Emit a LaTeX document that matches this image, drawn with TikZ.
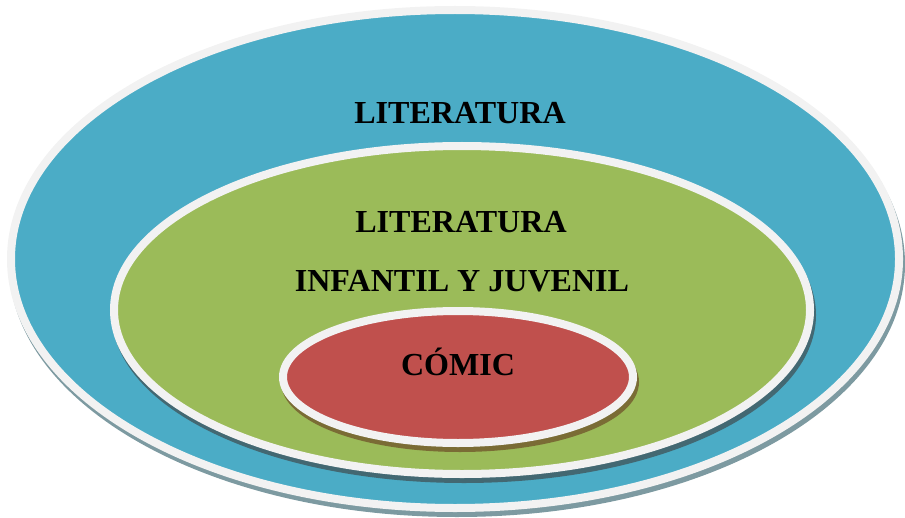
\documentclass[tikz,border=0pt]{standalone}
\usepackage{fontspec}
\setmainfont{Liberation Serif}
\usepackage{xcolor}
\definecolor{litblue}{HTML}{4BACC6}
\definecolor{litgreen}{HTML}{9BBB59}
\definecolor{litred}{HTML}{C0504D}
\definecolor{rimgray}{HTML}{F2F2F2}
\tikzset{
  rim/.style={draw=rimgray, line width=0.2cm},
  extrude/.style={fill=#1, draw=#1, line width=0.2cm},
  label/.style={font=\fontsize{22.8}{27}\selectfont\bfseries, text=black}
}
\begin{document}
\begin{tikzpicture}[x=0.025cm,y=-0.025cm]
\useasboundingbox (0,0) rectangle (905,518);
\filldraw [extrude=litblue!50!black!60] (457,264) ellipse [x radius=444, y radius=249];
\filldraw [rim, fill=litblue] (455,259) ellipse [x radius=444, y radius=249];
\filldraw [extrude=litblue!45!black!85] (464,315) ellipse [x radius=348, y radius=164];
\filldraw [rim, fill=litgreen] (462,310) ellipse [x radius=348, y radius=164];
\filldraw [extrude=litgreen!45!brown!70!black] (460,382) ellipse [x radius=175, y radius=66];
\filldraw [rim, fill=litred] (458,377) ellipse [x radius=175, y radius=66];
\node [label] (lit) at (460,113) {LITERATURA};
\node [label] (litij) at (461,222) {LITERATURA};
\node [label] (infjuv) at (462,281) {INFANTIL Y JUVENIL};
\node [label] (comic) at (458,362) {CÓMIC};
\end{tikzpicture}
\end{document}
